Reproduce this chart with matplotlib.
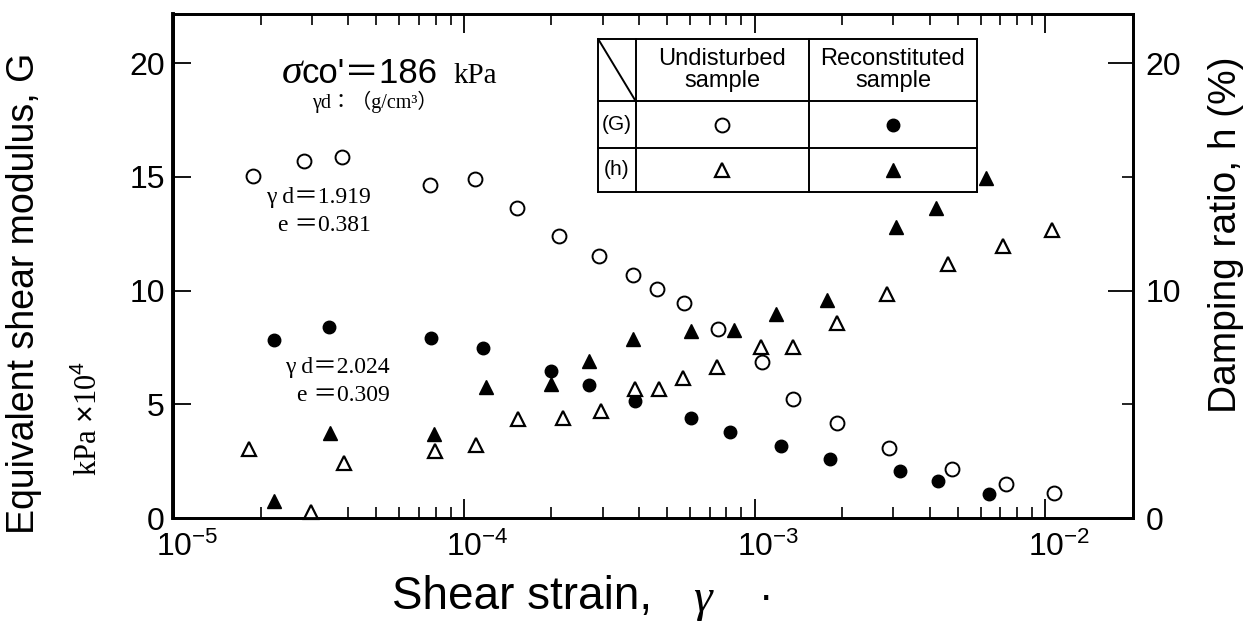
import numpy as np
import matplotlib.pyplot as plt
import matplotlib.transforms as mtransforms
from matplotlib.ticker import FixedLocator, FixedFormatter, NullFormatter, LogLocator

plt.rcParams['font.family'] = ['Liberation Sans', 'DejaVu Sans']
plt.rcParams['mathtext.fontset'] = 'custom'
plt.rcParams['mathtext.rm'] = 'Liberation Sans'
plt.rcParams['mathtext.it'] = 'Liberation Serif:italic'
plt.rcParams['mathtext.default'] = 'rm'

# Undisturbed sample: shear modulus G (kPa x 10^4)
und_g_strain = [1.88e-5, 2.82e-5, 3.81e-5, 7.65e-5, 1.09e-4, 1.52e-4, 2.12e-4,
                2.92e-4, 3.82e-4, 4.62e-4, 5.71e-4, 7.48e-4, 1.06e-3, 1.36e-3,
                1.92e-3, 2.90e-3, 4.77e-3, 7.31e-3, 1.07e-2]
und_g = [15.05, 15.71, 15.88, 14.65, 14.91, 13.64, 12.41, 11.53, 10.69, 10.07,
         9.46, 8.31, 6.86, 5.24, 4.18, 3.08, 2.16, 1.50, 1.10]

# Reconstituted sample: shear modulus G
rec_g_strain = [2.22e-5, 3.44e-5, 7.71e-5, 1.16e-4, 2.00e-4, 2.70e-4, 3.88e-4,
                6.04e-4, 8.22e-4, 1.23e-3, 1.82e-3, 3.16e-3, 4.27e-3, 6.40e-3]
rec_g = [7.83, 8.40, 7.92, 7.48, 6.47, 5.85, 5.15, 4.40, 3.78, 3.17, 2.60,
         2.07, 1.63, 1.06]

# Undisturbed sample: damping ratio h (%)
und_h_strain = [1.82e-5, 2.98e-5, 3.87e-5, 7.96e-5, 1.10e-4, 1.54e-4, 2.19e-4,
                2.96e-4, 3.88e-4, 4.69e-4, 5.67e-4, 7.43e-4, 1.05e-3, 1.36e-3,
                1.92e-3, 2.85e-3, 4.62e-3, 7.15e-3, 1.05e-2]
und_h = [3.04, 0.25, 2.42, 2.95, 3.21, 4.36, 4.40, 4.71, 5.68, 5.68, 6.16,
         6.64, 7.52, 7.52, 8.58, 9.85, 11.17, 11.97, 12.67]

# Reconstituted sample: damping ratio h (%)
rec_h_strain = [2.22e-5, 3.47e-5, 7.90e-5, 1.19e-4, 2.00e-4, 2.70e-4, 3.82e-4,
                6.04e-4, 8.49e-4, 1.18e-3, 1.77e-3, 3.06e-3, 4.21e-3, 6.25e-3]
rec_h = [0.75, 3.74, 3.70, 5.76, 5.90, 6.91, 7.88, 8.23, 8.27, 8.97, 9.59,
         12.80, 13.64, 14.96]

x_major = [1e-5, 1e-4, 1e-3, 1e-2]
x_labels = [r'$10^{-5}$', r'$10^{-4}$', r'$10^{-3}$', r'$10^{-2}$']

fig = plt.figure(figsize=(12.54, 6.24), dpi=100)
ax = fig.add_axes([173/1254, 106/624, 960/1254, 504/624])
ax2 = ax.twinx()

ax.set_xscale('log')
ax.set_xlim(1e-5, 2e-2)
ax.set_ylim(0, 22.17)
ax2.set_ylim(0, 22.17)

open_kw = dict(ls='none', mfc='white', mec='black', color='black')
ax.plot(und_g_strain, und_g, marker='o', ms=10, mew=1.4, **open_kw)
ax.plot(rec_g_strain, rec_g, marker='o', ms=9, ls='none', color='black')
ax2.plot(und_h_strain, und_h, marker='^', ms=10, mew=1.6, clip_on=False, **open_kw)
ax2.plot(rec_h_strain, rec_h, marker='^', ms=10, ls='none', color='black')

# ticks
ax.xaxis.set_major_locator(FixedLocator(x_major))
ax.xaxis.set_major_formatter(FixedFormatter(x_labels))
ax.xaxis.set_minor_locator(LogLocator(base=10, subs=np.arange(2, 10)))
ax.xaxis.set_minor_formatter(NullFormatter())
ax.tick_params(axis='x', which='major', direction='in', top=True, bottom=True,
               length=14, width=1.3, labelsize=23, pad=10)
ax.tick_params(axis='x', which='minor', direction='in', top=True, bottom=True,
               length=8, width=1.2)
ax.set_yticks([0, 5, 10, 15, 20])
ax.tick_params(axis='y', direction='in', length=13, width=1.3, labelsize=23,
               pad=6, right=False)
ax2.set_yticks([0, 10, 20])
ax2.set_yticks([5, 15], minor=True)
ax2.tick_params(axis='y', which='major', direction='in', length=18, width=1.3,
                labelsize=23, pad=9)
ax2.tick_params(axis='y', which='minor', direction='in', length=8, width=1.2)

shift = mtransforms.ScaledTranslation(14/100, 0, fig.dpi_scale_trans)
for lbl in ax.xaxis.get_majorticklabels():
    lbl.set_transform(lbl.get_transform() + shift)

for a in (ax, ax2):
    for s in a.spines.values():
        s.set_linewidth(2.0)
ax.spines['left'].set_linewidth(2.8)

# axis titles
fig.text(24/1254, 1 - 293/624, 'Equivalent shear modulus, G', rotation=90,
         ha='center', va='center', fontsize=27)
fig.text(88/1254, 1 - 418/624, r'kPa $\times$10$^{4}$', rotation=90,
         ha='center', va='center', fontsize=22, family='Liberation Serif')
fig.text(1226/1254, 1 - 235/624, 'Damping ratio, h (%)', rotation=90,
         ha='center', va='center', fontsize=28)
fig.text(392/1254, 1 - 597/624, 'Shear strain,',
         ha='left', va='center', fontsize=33)
fig.text(702/1254, 1 - 600/624, 'γ', ha='center', va='center', fontsize=34,
         family='Liberation Serif', style='italic')
fig.text(766/1254, 1 - 598/624, '·', ha='center', va='center', fontsize=31)

# test condition annotations
serif = ['Liberation Serif', 'Noto Sans CJK JP']
sans = ['Liberation Sans', 'Noto Sans CJK JP']
ax.text(0.1135, 0.863, 'σ', transform=ax.transAxes, fontsize=30,
        family='Liberation Serif', style='italic', va='baseline')
ax.text(0.134, 0.863, "co'＝186", transform=ax.transAxes, fontsize=25,
        family=sans, va='baseline')
ax.text(0.2917, 0.863, 'kPa', transform=ax.transAxes, fontsize=21,
        family='Liberation Serif', va='baseline')
ax.text(0.145, 0.813, 'γd：（g/cm³）', transform=ax.transAxes, fontsize=14.5,
        family=serif, va='baseline')
ax.text(0.2063, 0.625, 'γ d＝1.919', transform=ax.transAxes, fontsize=17,
        family=serif, va='baseline', ha='right')
ax.text(0.2063, 0.569, 'e ＝0.381', transform=ax.transAxes, fontsize=17,
        family=serif, va='baseline', ha='right')
ax.text(0.226, 0.288, 'γ d＝2.024', transform=ax.transAxes, fontsize=17,
        family=serif, va='baseline', ha='right')
ax.text(0.226, 0.232, 'e ＝0.309', transform=ax.transAxes, fontsize=17,
        family=serif, va='baseline', ha='right')

# legend table
tx = [0.443, 0.482, 0.6625, 0.8375]
ty = [0.950, 0.827, 0.734, 0.647]
lk = dict(transform=ax.transAxes, color='black', lw=1.4, clip_on=False)
for x in tx:
    ax.plot([x, x], [ty[0], ty[-1]], **lk)
for y in ty:
    ax.plot([tx[0], tx[-1]], [y, y], **lk)
ax.plot([tx[0], tx[1]], [ty[0], ty[1]], **lk)
c2 = (tx[1] + tx[2]) / 2
c3 = (tx[2] + tx[3]) / 2
ax.text(c2, (ty[0] + ty[1]) / 2, 'Undisturbed\nsample', transform=ax.transAxes,
        ha='center', va='center', fontsize=17, linespacing=1.0)
ax.text(c3, (ty[0] + ty[1]) / 2, 'Reconstituted\nsample', transform=ax.transAxes,
        ha='center', va='center', fontsize=17, linespacing=1.0)
ax.text((tx[0] + tx[1]) / 2, (ty[1] + ty[2]) / 2, '(G)', transform=ax.transAxes,
        ha='center', va='center', fontsize=15)
ax.text((tx[0] + tx[1]) / 2, (ty[2] + ty[3]) / 2, '(h)', transform=ax.transAxes,
        ha='center', va='center', fontsize=15)
mk = dict(transform=ax.transAxes, ls='none', color='black', clip_on=False)
ax.plot([c2], [(ty[1] + ty[2]) / 2], marker='o', ms=10, mfc='white', mew=1.4, **mk)
ax.plot([c3], [(ty[1] + ty[2]) / 2], marker='o', ms=9, **mk)
ax.plot([c2], [(ty[2] + ty[3]) / 2], marker='^', ms=10, mfc='white', mew=1.6, **mk)
ax.plot([c3], [(ty[2] + ty[3]) / 2], marker='^', ms=10, **mk)

fig.savefig('out.png', dpi=100, facecolor='white')
